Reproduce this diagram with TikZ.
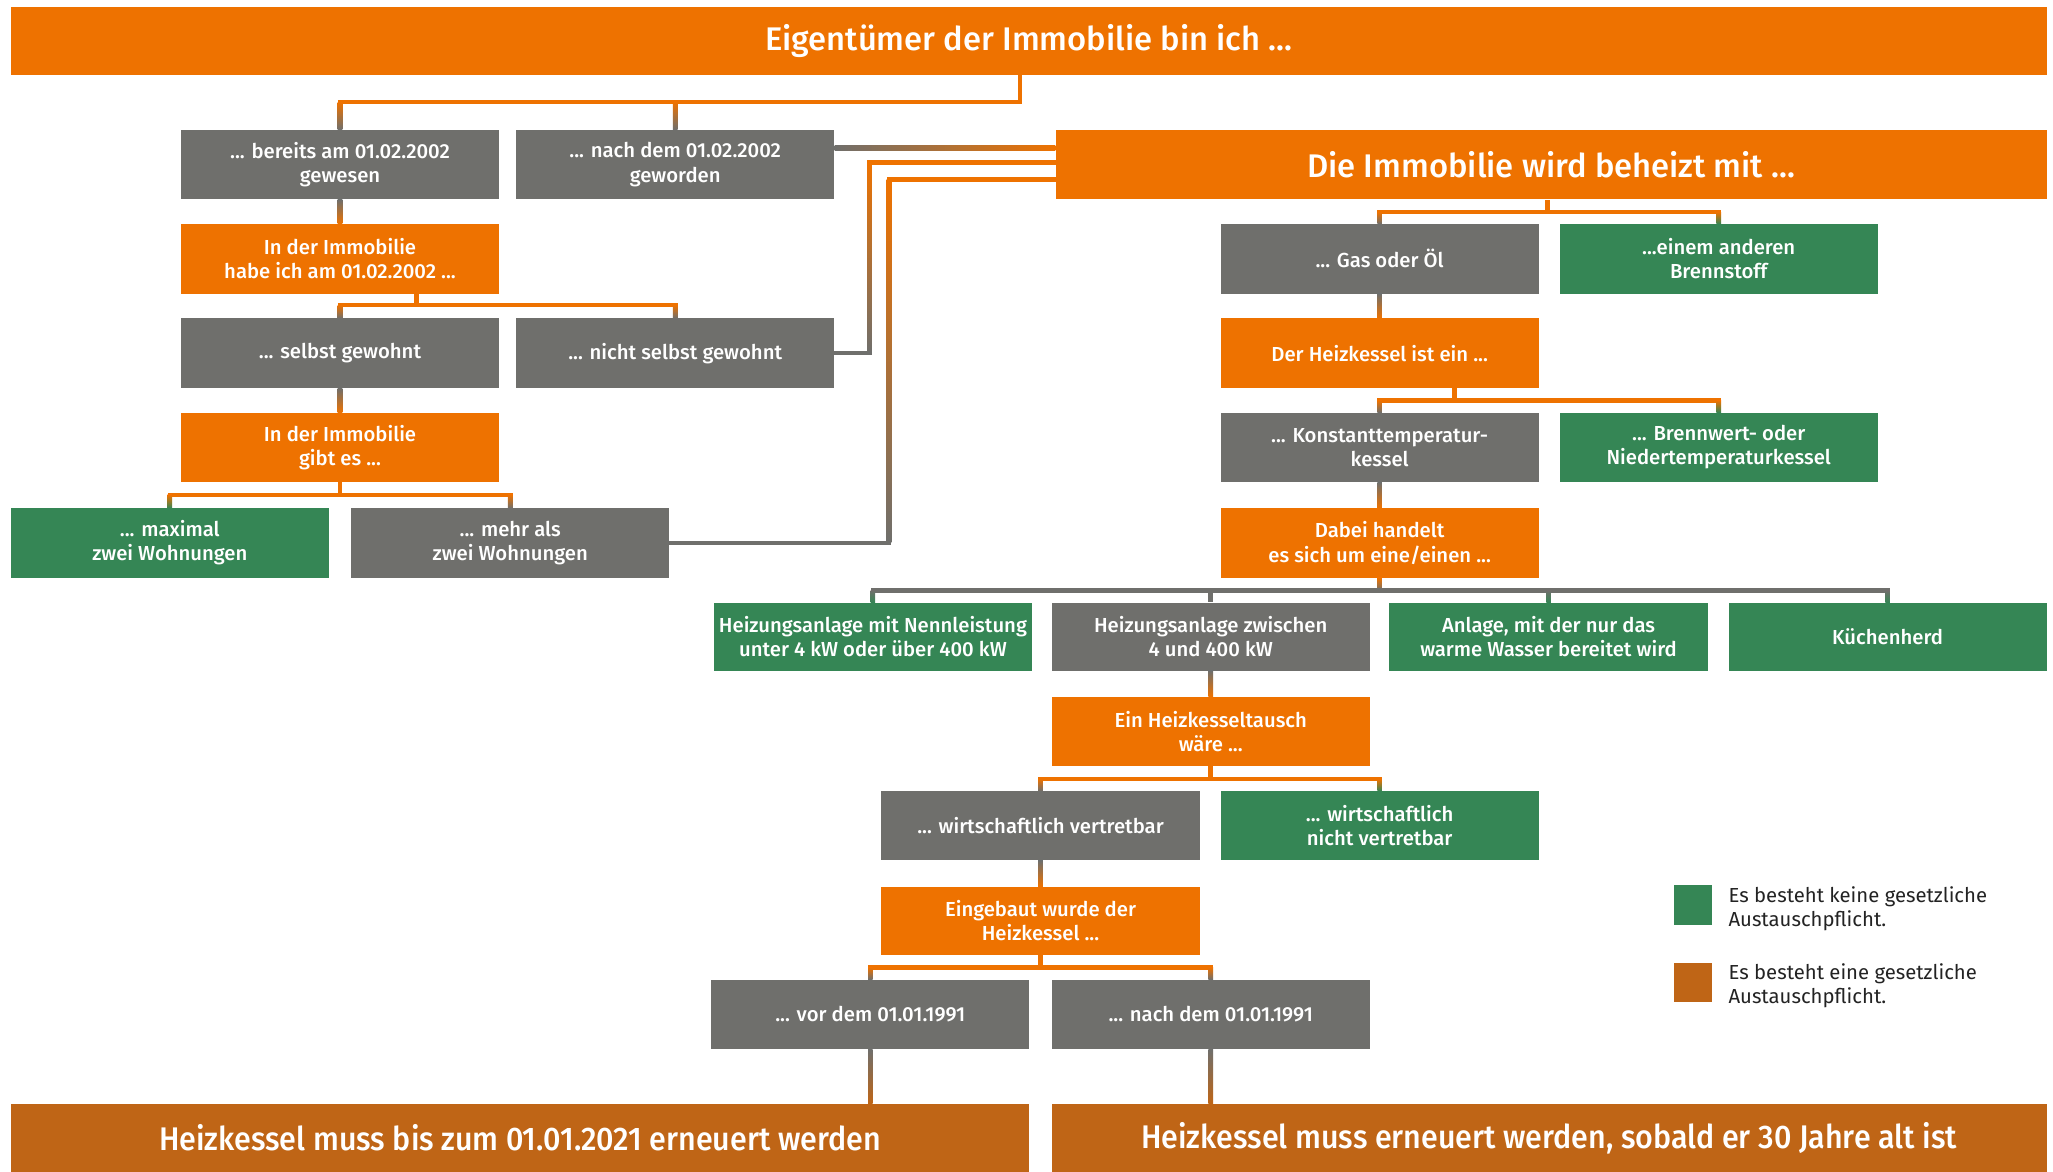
\documentclass[tikz,border=0pt]{standalone}
\usepackage{fontspec}
\setmainfont{Fira Sans}
\newfontfamily\boxfont{Fira Sans Medium}
\newfontfamily\barfont{Fira Sans Medium}[FakeStretch=0.93]
\usetikzlibrary{calc}
\definecolor{orng}{RGB}{238,114,0}
\definecolor{gry}{RGB}{111,111,108}
\definecolor{grn}{RGB}{53,134,85}
\definecolor{brn}{RGB}{191,101,22}
\definecolor{ink}{RGB}{35,35,35}
\newcommand\cvbar[3]{\fill[#3] ($(#1)+(-1.75,0)$) rectangle ($(#2)+(1.75,0)$);}
\newcommand\chbar[3]{\fill[#3] ($(#1)+(-1.75,-1.75)$) rectangle ($(#2)+(1.75,1.75)$);}
\newcommand\cvsh[4]{\shade[top color=#3,bottom color=#4] ($(#1)+(-1.75,0)$) rectangle ($(#2)+(1.75,0)$);}
\newcommand\chsh[4]{\shade[left color=#3,right color=#4] ($(#1)+(0,-1.75)$) rectangle ($(#2)+(0,1.75)$);}
\begin{document}
\begin{tikzpicture}[x=1pt,y=-1pt,
  box/.style={rectangle, anchor=north west, minimum width=243pt, minimum height=53pt, inner sep=0pt,
    text=white, align=center, font=\boxfont\fontsize{15.5}{18.5}\selectfont},
  gbox/.style={box, fill=gry},
  obox/.style={box, fill=orng},
  nbox/.style={box, fill=grn},
  bigbox/.style={box, font=\boxfont\fontsize{25}{30}\selectfont},
  endbox/.style={box, fill=brn, minimum height=52pt, font=\barfont\fontsize{25}{30}\selectfont},
  legtxt/.style={anchor=north west, inner sep=0pt, align=left, text=ink, font=\fontsize{15.5}{18}\selectfont}]
\useasboundingbox (0,0) rectangle (1568,895);
\fill[white] (0,0) rectangle (1568,895);

% ---------- nodes ----------
\node[bigbox, fill=orng, minimum width=1555pt, minimum height=52pt] (top) at (8,5) {Eigentümer der Immobilie bin ich ...};
\node[gbox] (b1) at (138,99) {... bereits am 01.02.2002\\gewesen};
\node[gbox] (b2) at (394,99) {... nach dem 01.02.2002\\geworden};
\node[bigbox, fill=orng, minimum width=757pt] (heat) at (806,99) {Die Immobilie wird beheizt mit ...};
\node[obox] (q2) at (138,171) {In der Immobilie\\habe ich am 01.02.2002 ...};
\node[gbox] (s1) at (138,243) {... selbst gewohnt};
\node[gbox] (s2) at (394,243) {... nicht selbst gewohnt};
\node[obox] (q3) at (138,315) {In der Immobilie\\gibt es ...};
\node[nbox] (w1) at (8,388) {... maximal\\zwei Wohnungen};
\node[gbox] (w2) at (268,388) {... mehr als\\zwei Wohnungen};

\node[gbox] (g1) at (932,171) {... Gas oder Öl};
\node[nbox] (g2) at (1191,171) {...einem anderen\\Brennstoff};
\node[obox] (q4) at (932,243) {Der Heizkessel ist ein ...};
\node[gbox] (k1) at (932,315) {... Konstanttemperatur-\\kessel};
\node[nbox] (k2) at (1191,315) {... Brennwert- oder\\Niedertemperaturkessel};
\node[obox] (q5) at (932,388) {Dabei handelt\\es sich um eine/einen ...};

\node[nbox, minimum height=52pt] (a1) at (545,460) {Heizungsanlage mit Nennleistung\\unter 4 kW oder über 400 kW};
\node[gbox, minimum height=52pt] (a2) at (803,460) {Heizungsanlage zwischen\\4 und 400 kW};
\node[nbox, minimum height=52pt] (a3) at (1061,460) {Anlage, mit der nur das\\warme Wasser bereitet wird};
\node[nbox, minimum height=52pt] (a4) at (1320,460) {Küchenherd};

\node[obox] (q6) at (803,532) {Ein Heizkesseltausch\\wäre ...};
\node[gbox] (e1) at (673,604) {... wirtschaftlich vertretbar};
\node[nbox] (e2) at (932,604) {... wirtschaftlich\\nicht vertretbar};
\node[obox, minimum height=52pt] (q7) at (673,677) {Eingebaut wurde der\\Heizkessel ...};
\node[gbox] (v1) at (543,748) {... vor dem 01.01.1991};
\node[gbox] (v2) at (803,748) {... nach dem 01.01.1991};

\node[endbox, minimum width=778pt] (r1) at (8,843) {Heizkessel muss bis zum 01.01.2021 erneuert werden};
\node[endbox, minimum width=760pt] (r2) at (803,843) {Heizkessel muss erneuert werden, sobald er 30 Jahre alt ist};

% legend
\node[rectangle, fill=grn, anchor=north west, minimum width=29pt, minimum height=30pt, inner sep=0pt] (lg1) at (1278,676) {};
\node[rectangle, fill=brn, anchor=north west, minimum width=29pt, minimum height=30pt, inner sep=0pt] (lg2) at (1278,735) {};
\node[legtxt] (lt1) at (1320,677) {Es besteht keine gesetzliche\\Austauschpflicht.};
\node[legtxt] (lt2) at (1320,736) {Es besteht eine gesetzliche\\Austauschpflicht.};

% ---------- connectors ----------
% top -> b1, b2
\coordinate (J1) at (779,78);
\cvbar{top.south -| J1}{J1}{orng}
\chbar{b1.north |- J1}{J1}{orng}
\cvsh{b1.north |- J1}{b1.north}{orng}{gry}
\cvsh{b2.north |- J1}{b2.north}{orng}{gry}
% b1 -> q2
\cvsh{b1.south}{q2.north}{gry}{orng}
% q2 -> s1, s2
\coordinate (J2) at (318,233);
\cvbar{q2.south -| J2}{J2}{orng}
\chbar{s1.north |- J2}{s2.north |- J2}{orng}
\cvsh{s1.north |- J2}{s1.north}{orng}{gry}
\cvsh{s2.north |- J2}{s2.north}{orng}{gry}
% s1 -> q3
\cvsh{s1.south}{q3.north}{gry}{orng}
% q3 -> w1, w2
\coordinate (J3) at (259,378);
\cvbar{q3.south}{q3.south |- J3}{orng}
\chbar{w1.north |- J3}{w2.north |- J3}{orng}
\cvsh{w1.north |- J3}{w1.north}{orng}{grn}
\cvsh{w2.north |- J3}{w2.north}{orng}{gry}
% b2 -> heat
\coordinate (H1) at (720,113);
\chsh{b2.east |- H1}{heat.west |- H1}{gry}{orng}
% s2 -> heat
\coordinate (K1) at (664,124);
\chbar{K1}{heat.west |- K1}{orng}
\cvsh{K1}{K1 |- s2.east}{orng}{gry}
\chbar{s2.east}{K1 |- s2.east}{gry}
% w2 -> heat
\coordinate (K2) at (679,137);
\chbar{K2}{heat.west |- K2}{orng}
\cvsh{K2}{K2 |- w2.east}{orng}{gry}
\chbar{w2.east}{K2 |- w2.east}{gry}
% heat -> g1, g2
\coordinate (J4) at (1182,162);
\cvbar{heat.south -| J4}{J4}{orng}
\chbar{g1.north |- J4}{g2.north |- J4}{orng}
\cvsh{g1.north |- J4}{g1.north}{orng}{gry}
\cvsh{g2.north |- J4}{g2.north}{orng}{grn}
% g1 -> q4
\cvsh{g1.south}{q4.north}{gry}{orng}
% q4 -> k1, k2
\coordinate (J5) at (1111,306);
\cvbar{q4.south -| J5}{J5}{orng}
\chbar{k1.north |- J5}{k2.north |- J5}{orng}
\cvsh{k1.north |- J5}{k1.north}{orng}{gry}
\cvsh{k2.north |- J5}{k2.north}{orng}{grn}
% k1 -> q5
\cvsh{k1.south}{q5.north}{gry}{orng}
% q5 -> a1..a4
\coordinate (J6) at (1053,451);
\cvsh{q5.south}{q5.south |- J6}{orng}{gry}
\chbar{a1.north |- J6}{a4.north |- J6}{gry}
\cvsh{a1.north |- J6}{a1.north}{gry}{grn}
\cvbar{a2.north |- J6}{a2.north}{gry}
\cvsh{a3.north |- J6}{a3.north}{gry}{grn}
\cvsh{a4.north |- J6}{a4.north}{gry}{grn}
% a2 -> q6
\cvsh{a2.south}{q6.north}{gry}{orng}
% q6 -> e1, e2
\coordinate (J7) at (924,595);
\cvbar{q6.south}{q6.south |- J7}{orng}
\chbar{e1.north |- J7}{e2.north |- J7}{orng}
\cvsh{e1.north |- J7}{e1.north}{orng}{gry}
\cvsh{e2.north |- J7}{e2.north}{orng}{grn}
% e1 -> q7
\cvsh{e1.south}{q7.north}{gry}{orng}
% q7 -> v1, v2
\coordinate (J8) at (794,739);
\cvbar{q7.south}{q7.south |- J8}{orng}
\chbar{v1.north |- J8}{v2.north |- J8}{orng}
\cvsh{v1.north |- J8}{v1.north}{orng}{gry}
\cvsh{v2.north |- J8}{v2.north}{orng}{gry}
% v1 -> r1, v2 -> r2
\cvsh{v1.south}{r1.north -| v1.south}{gry}{brn}
\cvsh{v2.south}{r2.north -| v2.south}{gry}{brn}
\end{tikzpicture}
\end{document}
